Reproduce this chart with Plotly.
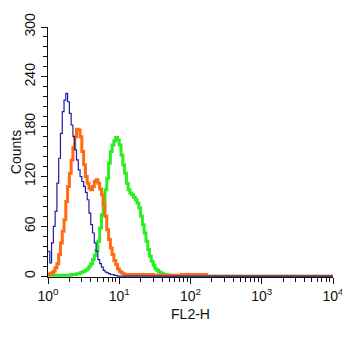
import plotly.graph_objects as go

# histogram bin positions (log10 of FL2-H), last point closes the baseline at 10^4
bin_log = [0.000, 0.025, 0.050, 0.075, 0.100, 0.125, 0.150, 0.175, 0.200, 0.225,
           0.250, 0.275, 0.300, 0.325, 0.350, 0.375, 0.400, 0.425, 0.450, 0.475,
           0.500, 0.525, 0.550, 0.575, 0.600, 0.625, 0.650, 0.675, 0.700, 0.725,
           0.750, 0.775, 0.800, 0.825, 0.850, 0.875, 0.900, 0.925, 0.950, 0.975,
           1.000, 1.025, 1.050, 1.075, 1.100, 1.125, 1.150, 1.175, 1.200, 1.225,
           1.250, 1.275, 1.300, 1.325, 1.350, 1.375, 1.400, 1.425, 1.450, 1.475,
           1.500, 1.525, 1.550, 1.575, 1.600, 1.625, 1.650, 1.675, 1.700, 1.725,
           1.750, 1.775, 1.800, 1.825, 1.850, 1.875, 1.900, 1.925, 1.950, 1.975,
           2.000, 2.025, 2.050, 2.075, 2.100, 2.125, 2.150, 2.175, 2.200, 2.225,
           2.250, 4.000]

blue_counts = [30, 16, 40, 60, 78, 112, 142, 172, 198, 212,
               220, 210, 196, 182, 168, 152, 140, 128, 120, 114,
               108, 101, 92, 76, 62, 52, 40, 30, 20, 15,
               11, 7, 5, 4, 3, 2, 2, 1, 1, 0,
               0, 0, 0, 0, 0, 0, 0, 0, 0, 0,
               0, 0, 0, 0, 0, 0, 0, 0, 0, 0,
               0, 0, 0, 0, 0, 0, 0, 0, 0, 0,
               0, 0, 0, 0, 0, 0, 0, 0, 0, 0,
               0, 0, 0, 0, 0, 0, 0, 0, 0, 0,
               0, 0]

orange_counts = [2, 3, 4, 6, 10, 15, 26, 40, 54, 68,
                 90, 108, 124, 140, 155, 168, 177, 176, 168, 150,
                 134, 120, 112, 106, 104, 108, 114, 116, 112, 105,
                 98, 86, 72, 56, 44, 34, 26, 19, 14, 9,
                 6, 4, 3, 2, 2, 2, 2, 2, 2, 2,
                 2, 2, 2, 2, 2, 2, 2, 2, 2, 1,
                 1, 1, 1, 1, 1, 1, 1, 1, 1, 1,
                 1, 1, 1, 1, 1, 2, 2, 2, 2, 2,
                 2, 2, 2, 2, 2, 2, 2, 2, 2, 0,
                 0, 0]

green_counts = [1, 1, 1, 1, 1, 1, 1, 1, 1, 1,
                1, 1, 1, 2, 2, 2, 3, 3, 4, 5,
                6, 7, 9, 12, 15, 20, 25, 31, 42, 58,
                74, 90, 104, 118, 136, 150, 158, 163, 167, 164,
                158, 146, 134, 124, 112, 104, 100, 98, 95, 92,
                88, 82, 72, 62, 52, 42, 32, 24, 18, 13,
                9, 7, 5, 4, 3, 2, 2, 1, 1, 1,
                0, 0, 0, 0, 0, 0, 0, 0, 0, 0,
                0, 0, 0, 0, 0, 0, 0, 0, 0, 0,
                0, 0]

y_ticks = [0, 60, 120, 180, 240, 300]
x_tickvals = [1, 10, 100, 1000, 10000]
x_ticktext = ["10<sup>0</sup>", "10<sup>1</sup>", "10<sup>2</sup>",
              "10<sup>3</sup>", "10<sup>4</sup>"]

fl2 = [10 ** v for v in bin_log]

fig = go.Figure()
fig.add_trace(go.Scatter(x=fl2, y=green_counts, mode="lines", line_shape="hv",
                         line=dict(color="#2bee22", width=3)))
fig.add_trace(go.Scatter(x=fl2, y=orange_counts, mode="lines", line_shape="hv",
                         line=dict(color="#ff6a12", width=3)))
fig.add_trace(go.Scatter(x=fl2, y=blue_counts, mode="lines", line_shape="hv",
                         line=dict(color="#1c1ca8", width=1.2)))

font = dict(family="Liberation Sans, Arial, sans-serif", size=13, color="#111")

# the page body adds an 8px offset, so the figure is 8px smaller than the window
fig.update_layout(
    width=342, height=330,
    margin=dict(l=40, r=17, t=19, b=61),
    paper_bgcolor="white", plot_bgcolor="white",
    showlegend=False,
    font=font,
    xaxis=dict(type="log", range=[0, 4], showgrid=False, zeroline=False, automargin=False,
               showline=True, linecolor="#111", linewidth=1,
               ticks="outside", ticklen=6, tickcolor="#111",
               tickvals=x_tickvals, ticktext=x_ticktext, tickfont=dict(size=14),
               minor=dict(ticks="outside", ticklen=4, dtick="D1", tickcolor="#111", showgrid=False),
               title=dict(text="FL2-H", standoff=6, font=dict(size=14))),
    yaxis=dict(range=[-1, 300], showgrid=False, zeroline=False, automargin=False,
               showline=True, linecolor="#111", linewidth=1,
               ticks="outside", ticklen=6, tickcolor="#111",
               tickvals=y_ticks, tickangle=-90, tickfont=dict(size=14),
               minor=dict(ticks="outside", ticklen=4, dtick=12, tickcolor="#111", showgrid=False),
               title=dict(text="Counts", standoff=6, font=dict(size=14))),
)

fig.write_html("out.html")
